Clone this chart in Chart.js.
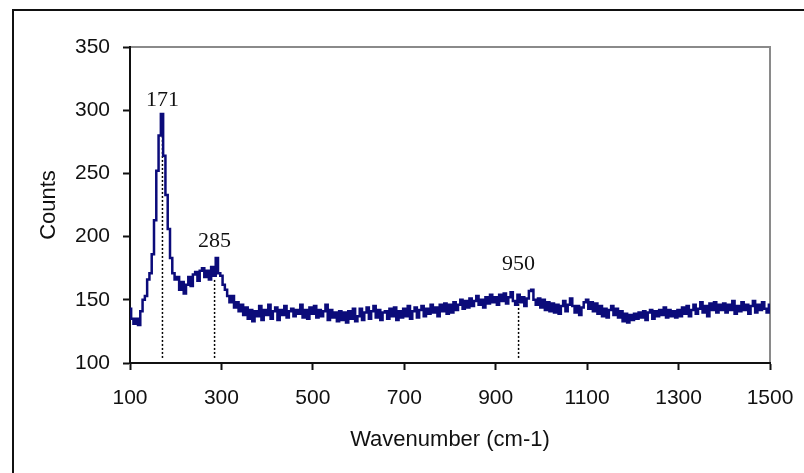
<!DOCTYPE html>
<html>
<head>
<meta charset="utf-8">
<script src="https://cdn.jsdelivr.net/npm/chart.js@4/dist/chart.umd.min.js"></script>
<style>
  html, body { margin: 0; padding: 0; background: #fff; }
  #wrap { width: 804px; height: 473px; }
</style>
</head>
<body>
<div id="wrap"><canvas id="spectrum"></canvas></div>
<script>
// Raman spectrum, sampled every 5 cm-1 from 100 to 1500
const waveStart = 100;
const waveStep = 5;
const counts = [
  143, 135, 131, 135, 130, 141, 150, 153, 166, 171, 186, 213, 252, 280, 297, 264, 233, 206, 183, 171,
  166, 168, 158, 164, 155, 162, 168, 161, 170, 172, 165, 173, 175, 168, 173, 166, 176, 169, 183, 171,
  169, 162, 158, 153, 148, 153, 144, 148, 141, 146, 138, 144, 135, 142, 133, 141, 137, 145, 134, 142,
  138, 146, 135, 141, 144, 134, 142, 138, 145, 136, 141, 143, 137, 142, 139, 146, 136, 142, 135, 144,
  139, 145, 136, 142, 137, 141, 146, 134, 142, 136, 140, 133, 141, 134, 140, 132, 141, 135, 143, 133,
  137, 143, 134, 140, 144, 135, 141, 145, 136, 142, 134, 140, 141, 135, 143, 137, 144, 134, 141, 136,
  143, 137, 145, 135, 141, 144, 136, 142, 145, 137, 143, 139, 146, 140, 144, 137, 146, 141, 147, 139,
  146, 140, 148, 142, 146, 150, 143, 149, 144, 151, 145, 149, 153, 146, 150, 144, 152, 147, 154, 148,
  152, 146, 154, 149, 155, 147, 152, 156, 149, 146, 154, 148, 152, 145, 151, 157, 158, 150, 146, 151,
  144, 150, 142, 148, 141, 147, 140, 146, 139, 145, 149, 141, 146, 151, 145, 140, 145, 138, 144, 148,
  150, 143, 148, 141, 147, 139, 145, 137, 143, 136, 142, 145, 138, 143, 136, 141, 133, 139, 132, 138,
  134, 139, 135, 140, 136, 141, 134, 140, 142, 135, 141, 137, 142, 138, 144, 136, 142, 137, 141, 136,
  142, 137, 144, 139, 145, 137, 142, 146, 139, 143, 148, 140, 145, 137, 147, 142, 148, 140, 146, 142,
  147, 140, 146, 142, 149, 139, 145, 141, 148, 142, 146, 139, 145, 149, 140, 146, 142, 148, 143, 140,
  146
];

// marked peaks: position, height of the marker line, and where the label sits
const peakPositions = [171, 285, 950];
const peakTops = [297, 166, 149];
const peakLabelCounts = [308, 196, 178];
const markerBase = 104;

const yTicks = [100, 150, 200, 250, 300, 350];
const xTicks = [100, 300, 500, 700, 900, 1100, 1300, 1500];

const points = counts.map((c, i) => ({ x: waveStart + i * waveStep, y: c }));

const markerSets = peakPositions.map((p, i) => ({
  data: [{ x: p, y: markerBase }, { x: p, y: peakTops[i] }],
  borderColor: '#000',
  borderWidth: 1.5,
  borderDash: [2, 2],
  pointRadius: 0,
  order: 2
}));

// outer frame, grey plot box and peak labels
const decorations = {
  id: 'decorations',
  beforeDraw(chart) {
    const c = chart.ctx;
    c.save();
    c.fillStyle = '#fff';
    c.fillRect(0, 0, chart.width, chart.height);
    c.strokeStyle = '#111';
    c.lineWidth = 2;
    c.strokeRect(13, 10, chart.width + 40, chart.height + 40);
    const a = chart.chartArea;
    c.strokeStyle = '#8a8a8a';
    c.lineWidth = 2;
    c.beginPath();
    c.moveTo(a.left, a.top);
    c.lineTo(a.right, a.top);
    c.lineTo(a.right, a.bottom);
    c.stroke();
    c.restore();
  },
  afterDraw(chart) {
    const c = chart.ctx;
    const xs = chart.scales.x, ys = chart.scales.y;
    c.save();
    c.fillStyle = '#111';
    c.font = '22px "Liberation Serif", serif';
    c.textAlign = 'center';
    c.textBaseline = 'middle';
    peakPositions.forEach((p, i) => {
      c.fillText(String(p), xs.getPixelForValue(p), ys.getPixelForValue(peakLabelCounts[i]));
    });
    c.restore();
  }
};

const tickFont = { family: '"Liberation Sans", Arial, sans-serif', size: 21 };
const titleFont = { family: '"Liberation Sans", Arial, sans-serif', size: 22, lineHeight: 1.2 };

new Chart(document.getElementById('spectrum'), {
  type: 'line',
  data: {
    datasets: [{
      data: points,
      borderColor: '#0b0b7a',
      borderWidth: 2.5,
      pointRadius: 0,
      stepped: 'middle',
      order: 1
    }, ...markerSets]
  },
  options: {
    responsive: true,
    maintainAspectRatio: false,
    animation: false,
    layout: { padding: { top: 47, right: 34, left: 0, bottom: 0 } },
    plugins: {
      legend: { display: false },
      tooltip: { enabled: false }
    },
    scales: {
      x: {
        type: 'linear',
        min: 100,
        max: 1500,
        afterBuildTicks: s => { s.ticks = xTicks.map(v => ({ value: v })); },
        afterFit: s => {
          s.height = 110;
          s.paddingLeft = 0;
          s.paddingRight = 0;
        },
        border: { color: '#111', width: 2 },
        grid: { drawOnChartArea: false, tickLength: 7, tickColor: '#111', tickWidth: 2 },
        ticks: {
          color: '#111',
          font: tickFont,
          padding: 16,
          maxRotation: 0,
          callback: v => String(v)
        },
        title: {
          display: true,
          text: 'Wavenumber (cm-1)',
          color: '#111',
          font: titleFont,
          padding: { top: 0, bottom: 20 }
        }
      },
      y: {
        min: 100,
        max: 350,
        afterBuildTicks: s => { s.ticks = yTicks.map(v => ({ value: v })); },
        afterFit: s => {
          s.width = 130;
          s.paddingTop = 0;
          s.paddingBottom = 0;
        },
        border: { color: '#111', width: 2 },
        grid: { drawOnChartArea: false, tickLength: 7, tickColor: '#111', tickWidth: 2 },
        ticks: { color: '#111', font: tickFont, padding: 13, callback: v => String(v) },
        title: {
          display: true,
          text: 'Counts',
          color: '#111',
          font: titleFont,
          padding: { top: 36, bottom: 0 }
        }
      }
    }
  },
  plugins: [decorations]
});
</script>
</body>
</html>
